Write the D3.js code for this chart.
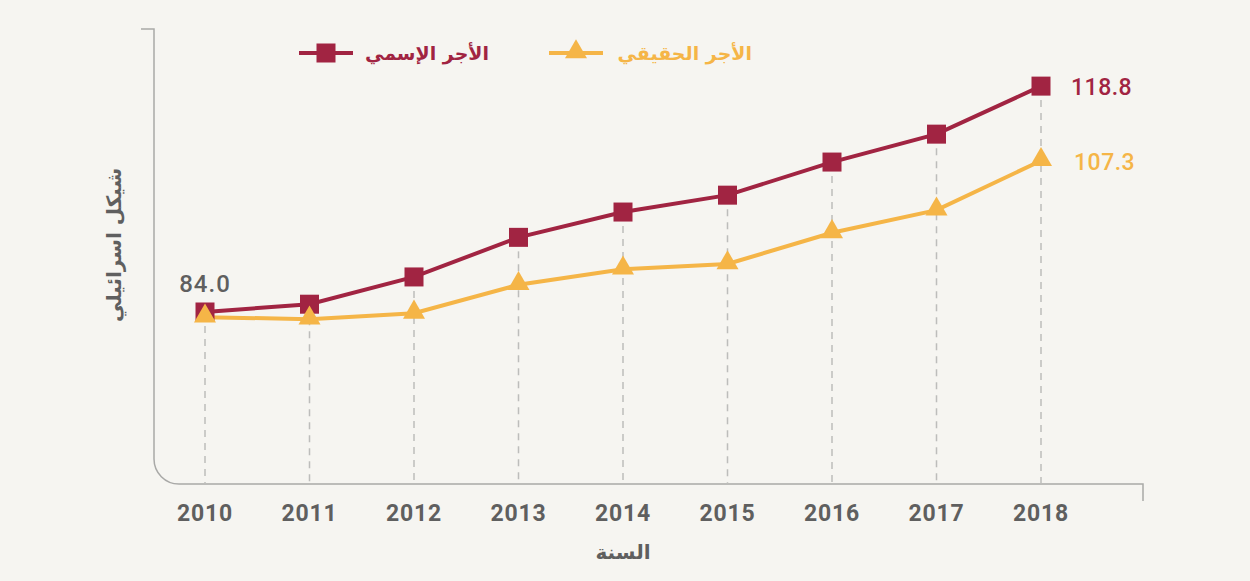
<!DOCTYPE html>
<html>
<head>
<meta charset="utf-8">
<script src="https://cdn.jsdelivr.net/npm/d3@7/dist/d3.min.js"></script>
<style>
  body { margin: 0; background: #f6f5f1; }
  svg { display: block; }
</style>
</head>
<body>
<svg width="1250" height="581"></svg>
<script>
var years   = [2010, 2011, 2012, 2013, 2014, 2015, 2016, 2017, 2018];
var nominal = [84.0, 85.2, 89.4, 95.5, 99.4, 102.0, 107.1, 111.4, 118.8];
var real    = [83.2, 82.9, 83.8, 88.2, 90.6, 91.4, 96.2, 99.7, 107.3];
var seriesNames = ["الأجر الإسمي", "الأجر الحقيقي"];
var xTitle = "السنة";
var yTitle = "شيكل اسرائيلي";

drawChart();

function drawChart(){
  var red = "#a12442", amber = "#f5b547", grey = "#5f5f5f", axisGrey = "#a9a9a7";

  var svg = d3.select("svg");
  var pLeft = 154, pRight = 1143, pTop = 29, pBottom = 484;

  var x = d3.scalePoint()
            .domain(years)
            .range([205, 1041]);

  var y = d3.scaleLinear()
            .domain([57.5, 127.6])
            .range([pBottom, pTop]);

  // frame: bracket at top, rounded corner bottom-left, tick at right end
  var r = 25;
  svg.append("path")
    .attr("d", "M" + (pLeft - 13) + "," + pTop + "H" + pLeft +
               "V" + (pBottom - r) +
               "A" + r + "," + r + " 0 0 0 " + (pLeft + r) + "," + pBottom +
               "H" + pRight + "V" + (pBottom + 17))
    .attr("fill", "none")
    .attr("stroke", axisGrey)
    .attr("stroke-width", 1.5);

  // dashed drop lines
  svg.selectAll(".drop")
    .data(years)
    .enter().append("line")
      .attr("class", "drop")
      .attr("x1", d => x(d))
      .attr("x2", d => x(d))
      .attr("y1", (d, i) => y(nominal[i]) + 14)
      .attr("y2", pBottom)
      .attr("stroke", "#bdbdbb")
      .attr("stroke-width", 1.5)
      .attr("stroke-dasharray", "7,6");

  // x tick labels
  svg.selectAll(".tick")
    .data(years)
    .enter().append("text")
      .attr("class", "tick")
      .attr("x", d => x(d))
      .attr("y", 521)
      .attr("text-anchor", "middle")
      .attr("font-family", "Roboto, sans-serif")
      .attr("font-weight", "bold")
      .attr("font-size", 23)
      .attr("letter-spacing", 0.8)
      .attr("fill", grey)
      .text(d => d);

  svg.append("text")
    .attr("x", x(2014))
    .attr("y", 559)
    .attr("text-anchor", "middle")
    .attr("font-family", "DejaVu Sans, sans-serif")
    .attr("font-weight", "bold")
    .attr("font-size", 20)
    .attr("fill", grey)
    .text(xTitle);

  svg.append("text")
    .attr("transform", "translate(121,245) rotate(-90)")
    .attr("text-anchor", "middle")
    .attr("font-family", "DejaVu Sans, sans-serif")
    .attr("font-weight", "bold")
    .attr("font-size", 20)
    .attr("fill", grey)
    .text(yTitle);

  var line = d3.line()
    .x((d, i) => x(years[i]))
    .y(d => y(d));

  // real series
  svg.append("path")
    .attr("d", line(real))
    .attr("fill", "none")
    .attr("stroke", amber)
    .attr("stroke-width", 4);

  // nominal series
  svg.append("path")
    .attr("d", line(nominal))
    .attr("fill", "none")
    .attr("stroke", red)
    .attr("stroke-width", 4);

  var sq = 19;
  svg.selectAll(".sq")
    .data(nominal)
    .enter().append("rect")
      .attr("class", "sq")
      .attr("x", (d, i) => x(years[i]) - sq / 2)
      .attr("y", d => y(d) - sq / 2)
      .attr("width", sq)
      .attr("height", sq)
      .attr("fill", red);

  var tri = d3.symbol().type(d3.symbolTriangle).size(210);
  svg.selectAll(".tri")
    .data(real)
    .enter().append("path")
      .attr("class", "tri")
      .attr("transform", (d, i) => "translate(" + x(years[i]) + "," + (y(d) - 1) + ")")
      .attr("d", tri)
      .attr("fill", amber);

  // value labels
  svg.append("text")
    .attr("x", x(2010))
    .attr("y", y(nominal[0]) - 20)
    .attr("text-anchor", "middle")
    .attr("font-family", "Roboto, sans-serif")
    .attr("font-weight", 500)
    .attr("font-size", 24)
    .attr("letter-spacing", 1)
    .attr("fill", grey)
    .text(nominal[0].toFixed(1));

  svg.append("text")
    .attr("x", x(2018) + 30)
    .attr("y", y(nominal[8]) + 9)
    .attr("font-family", "Roboto, sans-serif")
    .attr("font-weight", 500)
    .attr("font-size", 23)
    .attr("letter-spacing", 0.5)
    .attr("fill", red)
    .text(nominal[8].toFixed(1));

  svg.append("text")
    .attr("x", x(2018) + 33)
    .attr("y", y(real[8]) + 9)
    .attr("font-family", "Roboto, sans-serif")
    .attr("font-weight", 500)
    .attr("font-size", 23)
    .attr("letter-spacing", 0.5)
    .attr("fill", amber)
    .text(real[8].toFixed(1));

  // legend
  var legend = [
    {name: seriesNames[0], color: red, cx: 326, tx: 489, shape: "sq"},
    {name: seriesNames[1], color: amber, cx: 576, tx: 752, shape: "tri"}
  ];
  var lg = svg.selectAll(".legend")
    .data(legend)
    .enter().append("g")
      .attr("class", "legend");

  lg.append("line")
    .attr("x1", d => d.cx - 27)
    .attr("x2", d => d.cx + 27)
    .attr("y1", 53)
    .attr("y2", 53)
    .attr("stroke", d => d.color)
    .attr("stroke-width", 4);

  lg.filter(d => d.shape == "sq").append("rect")
    .attr("x", d => d.cx - sq / 2)
    .attr("y", 53 - sq / 2)
    .attr("width", sq)
    .attr("height", sq)
    .attr("fill", d => d.color);

  lg.filter(d => d.shape == "tri").append("path")
    .attr("transform", d => "translate(" + d.cx + ",52)")
    .attr("d", tri)
    .attr("fill", d => d.color);

  lg.append("text")
    .attr("x", d => d.tx)
    .attr("y", 60)
    .attr("text-anchor", "end")
    .attr("font-family", "DejaVu Sans, sans-serif")
    .attr("font-weight", "bold")
    .attr("font-size", 19)
    .attr("fill", d => d.color)
    .text(d => d.name);
}
</script>
</body>
</html>
